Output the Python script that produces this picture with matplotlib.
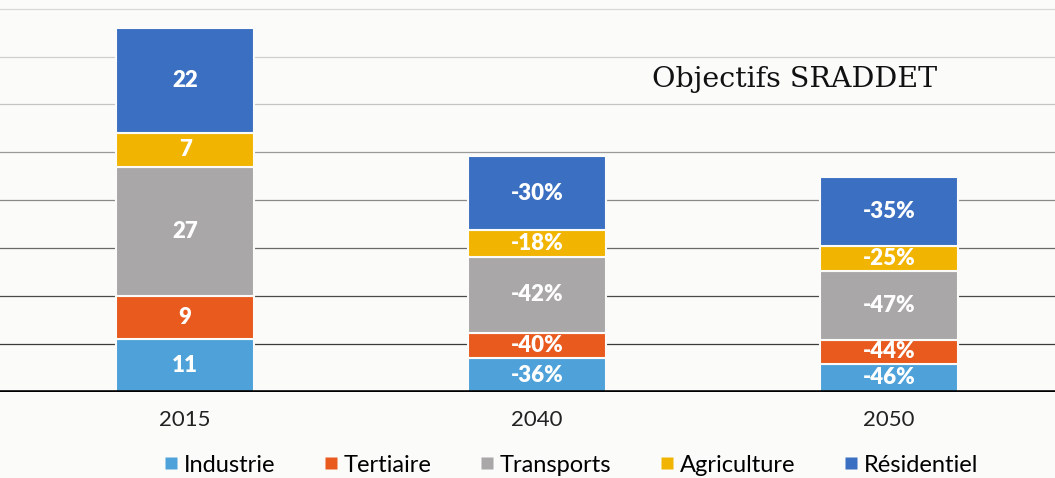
import numpy as np
import matplotlib.pyplot as plt
from matplotlib.lines import Line2D

years = ['2015', '2040', '2050']
secteurs = ['Industrie', 'Tertiaire', 'Transports', 'Agriculture', 'Résidentiel']
couleurs = ['#4ea2d9', '#e95a1e', '#a9a7a7', '#f1b400', '#3b6fc1']

# valeurs (hauteur des segments)
industrie = [11, 7.0, 5.9]
tertiaire = [9, 5.4, 5.0]
transports = [27, 15.7, 14.3]
agriculture = [7, 5.7, 5.3]
residentiel = [22, 15.4, 14.3]

lab_industrie = ['11', '-36%', '-46%']
lab_tertiaire = ['9', '-40%', '-44%']
lab_transports = ['27', '-42%', '-47%']
lab_agriculture = ['7', '-18%', '-25%']
lab_residentiel = ['22', '-30%', '-35%']

series = [industrie, tertiaire, transports, agriculture, residentiel]
labels = [lab_industrie, lab_tertiaire, lab_transports, lab_agriculture, lab_residentiel]

fig = plt.figure(figsize=(10.55, 4.78), dpi=100)
fig.patch.set_facecolor('#fbfbfa')
ax = fig.add_axes([0, 0.18, 1, 0.82])
ax.set_facecolor('#fbfbfa')

x = np.arange(len(years))
ax.set_xlim(-0.526, 2.472)
ax.set_ylim(0, 81.8)

# lignes de grille (plus foncées vers le bas, comme sur le scan)
grid_cols = ['#d8d8d8', '#cfcfcf', '#c4c4c4', '#9a9a9a', '#8a8a8a', '#6a6a6a', '#4a4a4a', '#3a3a3a']
for k, g in enumerate(range(80, 0, -10)):
    ax.axhline(g, color=grid_cols[k], lw=0.9, zorder=0)
ax.axhline(0, color='black', lw=2.6, zorder=3)

bottom = np.zeros(len(years))
for vals, labs, c, name in zip(series, labels, couleurs, secteurs):
    ax.bar(x, vals, width=0.392, bottom=bottom, color=c, edgecolor='#fbfbfa',
           linewidth=1.5, zorder=2, label=name)
    for xi, b, v, t in zip(x, bottom, vals, labs):
        ax.text(xi, b + v / 2, t, ha='center', va='center', color='white',
                fontsize=16, fontweight='heavy', family='Lato', zorder=4)
    bottom += np.array(vals)

ax.text(0.618, 0.796, 'Objectifs SRADDET', transform=ax.transAxes, fontsize=20.5,
        family='DejaVu Serif', color='#111111', va='center', ha='left')

ax.set_xticks(x)
ax.set_xticklabels(years, fontsize=16, family='Lato', color='#222222')
ax.tick_params(axis='x', length=0, pad=13)
ax.set_yticks([])
for s in ax.spines.values():
    s.set_visible(False)

handles = [Line2D([0], [0], marker='s', color='none', markerfacecolor=c,
                  markeredgecolor='none', markersize=8) for c in couleurs]
fig.legend(handles, secteurs, loc='center', bbox_to_anchor=(0.54, 0.027), ncol=5,
           frameon=False, prop={'family': 'Lato', 'size': 17},
           handletextpad=0.15, columnspacing=1.95, handlelength=0.8)

fig.savefig('out.png', dpi=100, facecolor=fig.get_facecolor())
